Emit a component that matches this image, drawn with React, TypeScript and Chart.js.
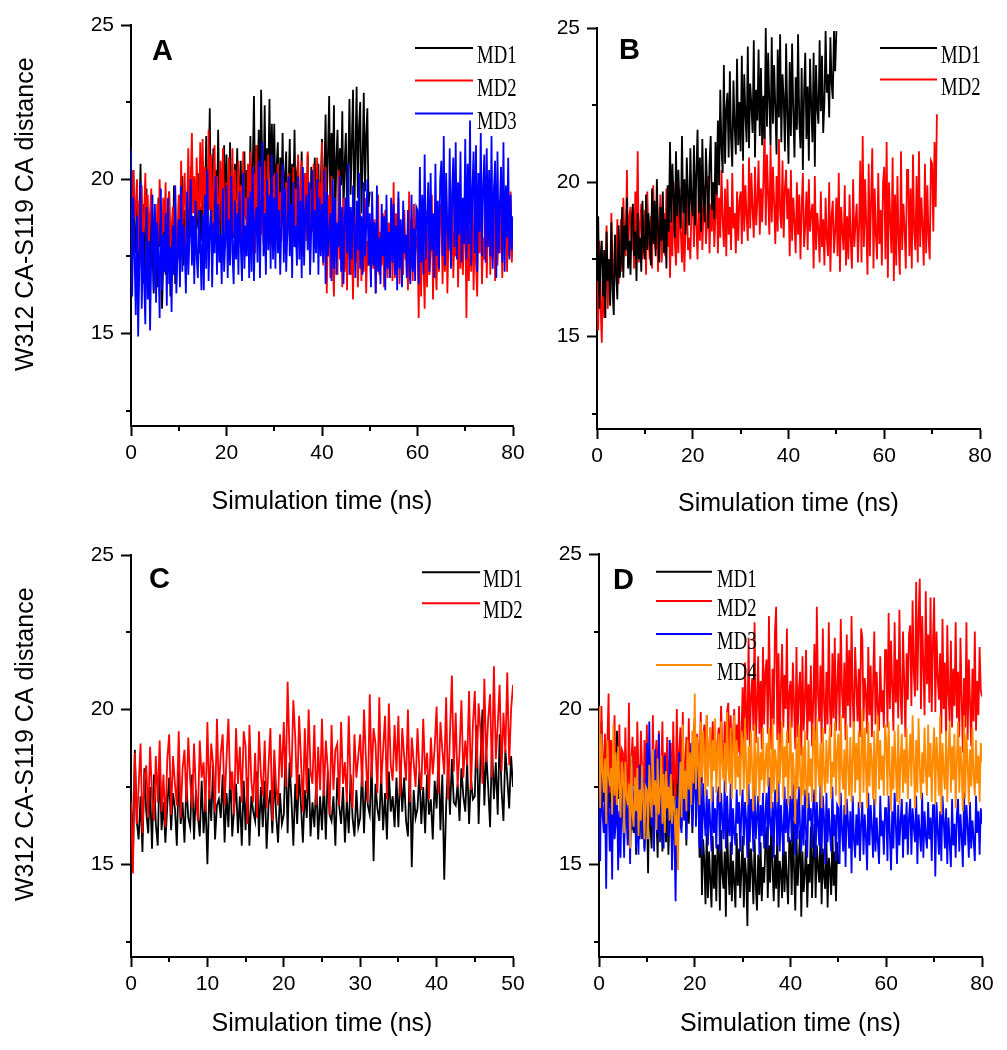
import React, { useEffect, useRef } from 'react';
import { Chart, registerables } from 'chart.js';

Chart.register(...registerables);

// ---------- data (distance in Å, one value every 0.25 ns) ----------
const TIME_STEP_NS = 0.25;
const Y_MIN = 12;
const Y_MAX = 25;
const Y_TICKS = [12.5, 15, 17.5, 20, 22.5, 25];
const X_TITLE = 'Simulation time (ns)';
const Y_TITLE = 'W312 CA-S119 CA distance';

const A_MD1 = [
  18.9, 17.4, 20.3, 18.1, 17.6, 19.6, 16.8, 18.8, 20.5, 17.3, 19.2, 16.6, 18.4, 19.7, 17.0, 18.9, 16.4, 19.3, 17.7, 16.3,
  18.6, 17.2, 16.5, 19.4, 17.8, 18.9, 15.8, 17.3, 19.0, 16.9, 18.2, 17.5, 19.6, 16.2, 18.5, 17.1, 19.8, 16.6, 18.0, 17.4,
  19.3, 17.6, 18.5, 20.1, 17.2, 19.0, 18.3, 17.4, 19.8, 18.1, 20.4, 17.9, 18.8, 17.3, 19.5, 18.4, 20.2, 17.6, 19.1, 18.0,
  20.6, 18.2, 19.4, 21.4, 18.6, 20.1, 22.3, 18.4, 19.7, 21.0, 17.9, 20.3, 18.7, 21.6, 19.2, 18.1, 20.2, 18.9, 21.1, 18.6,
  20.8, 18.3, 19.6, 21.2, 18.9, 20.0, 18.1, 20.5, 19.3, 21.0, 18.4, 19.8, 20.6, 18.2, 19.2, 20.9, 18.7, 20.3, 19.0, 18.5,
  21.4, 19.0, 20.3, 22.7, 19.4, 21.1, 19.8, 21.6, 18.8, 22.9, 20.2, 19.6, 22.4, 19.1, 21.0, 20.0, 22.6, 19.3, 21.8, 19.7,
  21.8, 19.0, 20.4, 21.2, 18.4, 20.7, 19.5, 21.5, 18.9, 20.1, 20.9, 18.2, 19.8, 21.3, 18.7, 20.5, 19.3, 21.6, 18.6, 20.2,
  20.6, 18.0, 19.4, 20.9, 17.6, 19.1, 20.2, 18.3, 20.8, 19.0, 17.8, 20.4, 18.5, 19.7, 20.7, 18.1, 19.3, 20.5, 18.4, 19.9,
  21.3, 18.6, 20.2, 22.1, 19.2, 20.8, 22.7, 19.0, 21.5, 20.0, 22.4, 18.4, 20.6, 21.6, 19.3, 21.0, 19.8, 22.2, 18.9, 20.5,
  21.5, 18.8, 20.4, 22.6, 19.5, 21.2, 22.9, 18.7, 20.9, 23.0, 19.4, 21.7, 22.5, 18.9, 20.6, 22.8, 19.6, 21.4, 22.3, 19.1,
  19.6,
];
const A_MD2 = [
  19.4, 18.2, 20.3, 18.7, 19.1, 20.0, 17.6, 19.3, 18.4, 19.8, 17.9, 18.8, 20.2, 18.1, 19.5, 17.7, 18.9, 19.7, 18.3, 17.8,
  18.9, 17.3, 19.2, 17.9, 20.0, 18.5, 17.5, 19.4, 18.3, 19.9, 17.2, 18.7, 19.6, 17.7, 18.4, 19.1, 17.6, 19.8, 18.0, 17.4,
  19.5, 18.1, 20.6, 18.4, 19.3, 20.2, 17.8, 19.0, 21.0, 18.6, 19.8, 21.5, 18.9, 20.1, 18.3, 20.7, 19.2, 18.5, 21.2, 19.0,
  21.3, 18.7, 20.4, 19.5, 18.1, 21.6, 19.0, 20.8, 18.3, 19.7, 21.1, 18.6, 20.1, 18.0, 19.4, 20.6, 18.4, 21.0, 19.2, 18.2,
  19.9, 17.8, 20.7, 18.5, 19.6, 21.0, 18.2, 20.3, 17.7, 19.2, 20.6, 18.4, 19.8, 18.0, 20.9, 18.8, 19.4, 17.9, 20.5, 18.6,
  20.9, 18.0, 19.6, 20.2, 17.6, 21.1, 18.6, 19.9, 20.4, 18.2, 19.8, 17.9, 20.6, 18.5, 19.3, 20.8, 18.1, 19.5, 17.8, 20.0,
  20.1, 18.3, 19.4, 20.5, 17.7, 19.6, 18.0, 20.3, 18.8, 17.6, 19.9, 18.1, 20.2, 18.6, 19.1, 17.8, 20.4, 18.4, 19.7, 18.0,
  20.8, 18.4, 19.5, 20.6, 17.5, 19.2, 20.2, 18.0, 20.9, 18.7, 17.3, 19.7, 18.3, 20.5, 17.8, 19.3, 20.7, 18.1, 19.9, 17.6,
  21.2, 17.2, 19.6, 20.4, 16.3, 18.7, 19.5, 16.8, 20.1, 17.5, 16.2, 19.0, 18.1, 16.9, 20.3, 17.4, 18.8, 16.5, 19.4, 17.0,
  18.6, 16.4, 19.3, 17.6, 16.9, 18.2, 16.1, 18.8, 17.3, 19.1, 16.5, 17.8, 18.9, 16.7, 18.3, 17.0, 19.4, 16.3, 18.0, 17.2,
  18.4, 16.6, 19.2, 17.1, 18.7, 16.3, 17.9, 19.5, 16.9, 18.3, 17.2, 18.9, 16.5, 19.0, 17.6, 16.8, 18.6, 17.3, 19.3, 16.7,
  19.9, 16.8, 18.9, 17.3, 19.4, 16.6, 18.5, 17.8, 16.9, 19.0, 17.4, 18.2, 16.4, 19.6, 17.1, 18.7, 16.7, 19.2, 17.5, 18.0,
  18.2, 15.5, 19.3, 16.2, 18.6, 17.4, 15.8, 19.0, 16.5, 18.4, 16.9, 17.7, 19.5, 16.1, 18.8, 17.2, 16.4, 18.9, 17.0, 19.1,
  19.2, 16.6, 18.5, 17.0, 19.7, 16.3, 18.1, 18.8, 17.2, 19.4, 16.8, 18.3, 17.5, 19.6, 16.5, 18.7, 17.1, 19.0, 16.9, 18.4,
  18.9, 15.5, 19.1, 16.7, 18.4, 17.0, 19.5, 16.4, 18.7, 17.3, 16.2, 18.9, 17.6, 19.2, 16.6, 18.1, 17.4, 19.4, 16.8, 18.5,
  19.3, 16.9, 18.6, 17.4, 19.8, 16.7, 19.0, 17.2, 18.5, 17.6, 19.5, 16.8, 18.3, 17.9, 19.1, 17.0, 18.8, 17.5, 19.6, 17.3,
  18.2,
];
const A_MD3 = [
  21.0, 16.2, 19.4, 17.5, 15.6, 18.8, 14.9, 17.2, 19.9, 15.8, 18.3, 16.7, 15.3, 19.1, 16.1, 18.0, 15.1, 17.7, 19.5, 16.4,
  19.2, 16.0, 18.6, 17.4, 15.5, 19.7, 16.4, 18.2, 17.0, 18.9, 15.9, 19.4, 16.6, 17.8, 15.7, 18.5, 16.9, 19.8, 16.3, 17.6,
  18.7, 16.5, 19.8, 17.0, 18.5, 17.7, 16.3, 19.6, 16.9, 18.1, 20.0, 17.2, 18.8, 16.6, 19.3, 17.5, 16.8, 19.0, 17.9, 16.4,
  18.9, 16.4, 19.5, 17.1, 20.3, 16.7, 18.4, 19.0, 16.5, 18.6, 17.6, 20.1, 16.9, 19.2, 17.3, 18.2, 16.6, 19.7, 17.0, 18.0,
  19.8, 16.8, 18.7, 17.2, 20.1, 17.6, 16.6, 19.3, 17.4, 18.9, 16.9, 19.6, 17.8, 16.7, 20.2, 17.1, 18.5, 17.5, 19.4, 16.8,
  19.6, 17.0, 20.4, 16.7, 18.6, 19.1, 17.3, 20.6, 16.8, 19.0, 21.2, 17.5, 18.9, 16.9, 20.0, 17.7, 19.5, 17.1, 20.8, 17.4,
  19.4, 17.1, 20.2, 17.6, 19.0, 16.9, 18.6, 20.5, 17.3, 19.7, 17.0, 18.3, 20.1, 17.5, 19.2, 16.8, 19.9, 17.8, 18.5, 17.2,
  20.1, 17.4, 19.3, 16.8, 20.4, 17.2, 18.8, 19.5, 17.7, 19.9, 16.9, 18.4, 20.3, 17.3, 19.0, 17.6, 20.0, 16.9, 19.4, 17.5,
  19.2, 17.3, 20.3, 16.6, 19.6, 17.5, 18.2, 18.9, 16.7, 20.0, 17.1, 19.4, 16.9, 18.6, 17.8, 20.1, 17.0, 19.1, 16.6, 18.7,
  19.4, 17.6, 20.5, 16.9, 19.1, 17.4, 19.8, 18.3, 16.8, 19.3, 17.7, 20.2, 17.1, 18.8, 16.9, 19.9, 17.5, 18.4, 20.0, 17.2,
  18.9, 16.5, 19.6, 17.2, 18.6, 16.3, 19.8, 17.0, 18.1, 16.6, 19.2, 17.5, 18.8, 16.4, 19.5, 17.1, 18.3, 16.8, 19.4, 17.3,
  19.2, 16.9, 18.5, 16.4, 19.6, 17.1, 18.7, 16.5, 19.3, 17.6, 18.2, 16.8, 19.0, 17.3, 16.6, 19.5, 17.0, 18.4, 16.7, 19.1,
  19.0, 16.6, 20.4, 17.3, 19.5, 16.9, 20.8, 17.4, 18.6, 19.9, 17.0, 20.2, 17.7, 18.9, 16.8, 20.5, 17.5, 19.3, 17.1, 20.0,
  20.6, 17.5, 21.4, 17.2, 20.2, 18.4, 17.7, 21.0, 17.1, 19.6, 20.7, 17.8, 21.2, 17.4, 19.9, 18.2, 20.9, 17.3, 19.4, 17.9,
  21.3, 17.4, 20.5, 17.9, 21.9, 17.2, 19.7, 20.9, 17.6, 21.1, 17.0, 20.2, 18.3, 21.5, 17.5, 19.8, 20.8, 17.3, 21.0, 17.8,
  20.3, 17.5, 21.4, 17.1, 19.6, 20.6, 16.8, 20.9, 17.6, 19.2, 20.4, 17.3, 21.2, 17.0, 19.8, 18.1, 20.7, 17.4, 19.5, 17.7,
  18.8,
];

const B_MD1 = [
  17.2, 18.9, 15.9, 17.6, 18.1, 16.3, 17.8, 15.6, 18.4, 16.8, 17.5, 16.0, 18.7, 16.5, 15.7, 18.3, 17.0, 16.2, 18.6, 16.9,
  17.4, 19.2, 16.9, 18.6, 17.8, 19.5, 17.2, 18.1, 17.0, 18.8, 19.3, 17.6, 18.4, 16.8, 19.0, 17.5, 18.2, 17.1, 19.4, 17.9,
  17.5, 19.6, 17.8, 19.0, 18.3, 17.3, 19.8, 18.0, 19.4, 17.6, 20.1, 18.5, 17.4, 19.2, 18.1, 19.7, 17.7, 18.8, 17.2, 19.9,
  18.4, 21.3, 18.7, 20.6, 19.5, 18.2, 21.0, 18.9, 20.4, 19.2, 18.5, 21.5, 19.0, 20.1, 18.3, 20.8, 19.6, 18.6, 21.1, 19.3,
  18.9, 21.2, 18.6, 20.3, 21.7, 19.0, 20.8, 18.4, 21.4, 19.5, 18.7, 21.1, 19.8, 18.5, 20.6, 21.5, 19.1, 20.0, 18.8, 21.3,
  19.6, 22.0, 19.9, 23.0, 21.1, 20.3, 23.8, 20.6, 22.4, 22.9, 20.8, 23.6, 21.4, 20.5, 23.3, 21.8, 20.9, 24.0, 21.2, 22.6,
  21.0, 24.1, 20.7, 23.5, 22.2, 21.3, 24.4, 21.1, 23.2, 22.5, 21.6, 24.6, 20.8, 23.0, 22.0, 24.3, 21.5, 23.7, 21.2, 22.8,
  21.4, 25.0, 21.8, 24.2, 22.6, 21.2, 24.7, 21.9, 23.8, 22.4, 20.9, 24.3, 22.1, 24.8, 21.3, 23.5, 22.7, 21.0, 24.5, 22.2,
  20.6, 23.9, 21.5, 24.5, 22.3, 20.8, 23.4, 21.7, 24.8, 22.0, 21.1, 23.7, 20.4, 22.9, 24.2, 21.4, 23.1, 20.7, 24.0, 22.5,
  21.3, 24.2, 20.5, 23.8, 22.4, 21.9, 24.6, 22.3, 24.1, 21.6, 22.6, 24.9, 22.9, 23.5, 22.1, 24.7, 23.2, 22.7, 24.9, 23.6,
  24.9,
];
const B_MD2 = [
  16.8, 15.2, 18.1, 16.0, 14.8, 17.4, 15.6, 16.9, 18.6, 15.9, 17.5, 16.9, 19.0, 17.2, 16.4, 18.3, 17.0, 18.8, 16.7, 18.0,
  18.8, 17.1, 19.5, 18.2, 17.6, 20.4, 17.3, 18.9, 19.2, 17.8, 18.5, 17.2, 19.7, 18.0, 21.0, 17.4, 18.6, 19.3, 17.5, 18.4,
  19.1, 17.0, 19.7, 18.3, 17.5, 18.9, 17.2, 19.9, 18.1, 17.8, 19.3, 17.1, 18.6, 19.6, 17.4, 18.2, 19.0, 17.6, 19.8, 17.9,
  19.5, 16.9, 18.8, 17.6, 20.0, 18.1, 17.3, 19.2, 17.7, 19.8, 18.4, 17.4, 19.0, 17.1, 18.6, 19.6, 17.8, 18.2, 17.5, 19.3,
  19.6, 17.9, 20.3, 18.6, 17.5, 19.4, 18.1, 20.5, 17.8, 19.1, 19.9, 18.0, 18.7, 20.2, 17.7, 19.3, 18.4, 20.0, 17.9, 18.9,
  20.2, 17.7, 19.5, 18.2, 20.4, 18.8, 17.9, 19.8, 17.6, 20.1, 18.3, 19.2, 17.8, 20.3, 18.5, 19.0, 17.7, 19.7, 18.1, 19.4,
  19.7, 18.0, 20.6, 18.4, 19.9, 18.9, 18.1, 20.8, 18.5, 20.3, 19.1, 18.2, 20.5, 18.6, 19.4, 20.7, 18.3, 19.8, 18.7, 20.0,
  21.8, 18.6, 20.9, 19.6, 18.3, 21.2, 18.7, 20.5, 19.3, 18.0, 20.2, 18.4, 21.4, 19.0, 18.5, 20.7, 18.2, 19.8, 20.4, 18.8,
  19.8, 17.6, 20.4, 18.1, 19.5, 18.7, 17.7, 20.0, 18.3, 19.6, 17.5, 19.2, 20.3, 17.9, 18.6, 19.7, 17.8, 20.1, 18.4, 19.0,
  19.3, 17.2, 20.2, 17.8, 19.0, 18.5, 17.4, 19.7, 17.9, 18.8, 17.3, 19.5, 18.2, 17.6, 20.0, 17.1, 18.9, 19.4, 17.7, 18.4,
  19.5, 17.6, 20.3, 17.1, 19.2, 18.4, 17.8, 19.9, 17.3, 18.9, 17.5, 19.6, 18.1, 17.2, 20.1, 17.9, 18.7, 19.3, 17.4, 18.6,
  20.7, 17.4, 21.5, 17.9, 20.1, 18.6, 17.0, 20.6, 17.6, 19.4, 21.1, 17.2, 19.8, 18.3, 17.5, 20.3, 18.0, 19.1, 17.3, 20.0,
  20.5, 17.5, 21.3, 16.9, 20.0, 18.8, 17.7, 20.8, 16.8, 19.6, 17.3, 20.2, 18.1, 17.0, 21.0, 17.8, 19.3, 18.5, 17.2, 20.4,
  20.4, 17.6, 19.8, 17.2, 20.9, 18.4, 17.8, 20.2, 17.4, 21.0, 17.9, 19.5, 18.6, 17.3, 20.6, 17.7, 19.9, 18.2, 17.5, 20.7,
  20.6, 18.4, 21.3, 19.2, 22.2,
];

const C_MD1 = [
  17.6, 15.0, 18.7, 16.4, 15.8, 17.2, 15.4, 18.1, 16.7, 16.0, 17.5, 15.5, 17.9, 16.3, 15.6, 18.3, 16.1, 17.0, 15.7, 16.9,
  17.8, 16.1, 17.3, 16.8, 15.6, 18.0, 16.3, 17.0, 15.7, 17.6, 16.5, 16.2, 17.9, 15.8, 17.4, 16.6, 15.9, 17.7, 16.0, 17.1,
  15.0, 17.4, 16.4, 18.2, 15.8, 16.9, 17.1, 16.5, 17.9, 15.7, 17.3, 16.2, 18.0, 15.9, 16.8, 17.6, 16.0, 17.2, 15.6, 17.7,
  16.1, 17.8, 15.6, 17.2, 16.7, 16.4, 18.0, 15.9, 17.5, 16.2, 17.7, 15.5, 16.9, 17.4, 16.0, 17.9, 16.6, 15.7, 17.3, 16.3,
  16.6, 18.8, 16.0, 18.3, 17.1, 15.6, 17.6, 16.3, 17.9, 16.9, 15.7, 17.4, 16.5, 18.1, 15.9, 17.0, 16.2, 17.7, 15.8, 17.2,
  16.1, 17.7, 15.8, 18.0, 16.6, 16.4, 17.2, 15.6, 17.8, 16.9, 16.3, 17.5, 15.7, 17.1, 16.0, 17.9, 16.5, 15.9, 17.4, 16.2,
  16.5, 18.1, 16.0, 17.7, 16.9, 16.6, 18.3, 15.1, 17.6, 16.8, 16.4, 17.9, 16.1, 17.3, 15.8, 18.0, 16.7, 17.2, 16.2, 17.8,
  16.2, 18.2, 16.7, 17.8, 16.4, 15.9, 18.3, 14.9, 17.4, 16.5, 16.8, 18.0, 16.3, 17.5, 16.0, 17.9, 16.6, 17.1, 15.8, 17.7,
  16.8, 18.5, 16.1, 17.9, 14.5, 16.9, 18.2, 16.6, 18.4, 17.0, 16.9, 17.6, 16.4, 18.1, 17.2, 16.7, 18.3, 16.3, 17.8, 17.1,
  17.2, 19.5, 16.3, 18.4, 20.0, 16.9, 18.6, 17.5, 16.2, 18.9, 17.1, 18.3, 16.6, 19.2, 17.4, 16.4, 18.7, 17.8, 16.8, 18.5,
  17.5,
];
const C_MD2 = [
  17.0, 14.7, 18.6, 16.3, 17.5, 18.9, 16.0, 17.8, 18.2, 16.5, 18.8, 17.2, 16.4, 18.5, 17.0, 19.0, 16.7, 17.9, 16.2, 18.4,
  19.2, 16.6, 18.5, 17.6, 16.9, 19.3, 16.5, 18.1, 18.7, 17.0, 19.1, 17.7, 16.8, 18.9, 17.3, 16.4, 19.0, 17.8, 18.3, 16.7,
  19.6, 17.1, 18.9, 18.2, 16.7, 19.7, 17.3, 18.6, 19.2, 16.9, 18.4, 19.7, 17.4, 18.0, 16.6, 19.4, 17.6, 18.8, 17.0, 19.3,
  18.8, 16.3, 19.5, 17.7, 17.0, 18.6, 16.5, 19.3, 17.9, 17.2, 19.0, 16.8, 18.2, 19.4, 16.4, 18.7, 17.5, 16.9, 19.2, 17.8,
  19.6, 17.5, 20.9, 18.6, 17.8, 20.3, 19.1, 17.1, 19.8, 18.4, 16.7, 19.4, 17.3, 20.0, 18.0, 17.6, 19.5, 16.9, 18.8, 17.4,
  19.7, 17.2, 19.0, 18.1, 16.6, 19.5, 17.4, 18.7, 18.9, 16.9, 19.6, 17.6, 18.3, 17.0, 19.8, 17.5, 16.8, 19.2, 17.8, 18.5,
  19.2, 17.5, 20.0, 18.4, 17.0, 20.5, 17.8, 19.4, 18.9, 17.3, 20.4, 17.6, 18.7, 19.8, 17.1, 20.2, 18.2, 17.7, 19.5, 18.0,
  19.8, 17.2, 19.4, 18.5, 17.7, 20.0, 17.0, 19.1, 18.3, 17.5, 19.4, 18.0, 17.4, 19.7, 17.9, 18.6, 17.1, 19.1, 17.9, 18.8,
  20.1, 17.3, 19.6, 18.7, 17.9, 20.4, 17.1, 19.2, 21.1, 18.0, 19.9, 17.5, 18.6, 20.3, 17.8, 19.0, 18.2, 20.6, 17.4, 19.5,
  20.6, 18.1, 20.2, 19.3, 17.6, 21.0, 18.3, 19.7, 20.5, 17.8, 21.4, 18.4, 19.5, 20.8, 18.0, 19.9, 18.6, 21.2, 18.2, 20.0,
  20.8,
];

const D_MD1 = [
  18.2, 16.4, 19.6, 17.5, 17.0, 18.5, 16.1, 19.0, 17.8, 16.8, 18.0, 16.2, 18.9, 17.3, 16.5, 19.3, 17.1, 18.4, 16.6, 17.7,
  17.4, 15.6, 17.9, 16.8, 16.3, 17.0, 15.4, 17.6, 16.5, 16.0, 17.2, 15.3, 17.8, 16.2, 15.8, 17.5, 16.6, 17.1, 15.5, 16.9,
  16.9, 14.7, 17.5, 16.2, 15.5, 18.0, 15.9, 17.3, 16.6, 15.2, 17.7, 16.1, 16.8, 15.4, 17.9, 16.4, 15.7, 17.4, 15.3, 16.7,
  17.1, 15.4, 17.8, 16.5, 15.0, 18.4, 15.8, 17.5, 16.9, 16.2, 19.0, 16.6, 17.7, 15.6, 18.2, 16.3, 17.2, 18.6, 16.0, 17.4,
  19.3, 16.8, 18.2, 17.4, 15.2, 16.9, 14.0, 15.8, 15.1, 13.7, 16.0, 13.9, 15.4, 14.5, 13.6, 15.9, 14.2, 15.3, 13.8, 15.6,
  15.6, 13.5, 16.1, 14.7, 14.2, 15.4, 13.3, 16.3, 14.9, 14.0, 15.7, 13.8, 15.1, 14.4, 13.6, 16.0, 14.3, 15.5, 13.9, 14.8,
  15.9, 13.6, 15.2, 14.6, 13.0, 16.0, 14.1, 15.5, 14.8, 13.7, 15.8, 14.3, 13.5, 15.3, 14.0, 15.7, 13.8, 14.9, 14.4, 15.6,
  16.2, 13.9, 15.6, 14.4, 16.5, 14.9, 13.8, 15.3, 14.2, 16.0, 13.6, 15.1, 14.7, 13.9, 16.3, 14.1, 15.4, 14.5, 13.7, 15.8,
  15.7, 14.0, 16.4, 14.8, 13.5, 15.9, 14.3, 15.2, 16.1, 13.3, 15.4, 14.1, 14.7, 15.8, 13.6, 15.0, 14.4, 16.2, 13.9, 15.3,
  16.3, 13.9, 15.6, 14.9, 14.4, 16.0, 13.7, 15.5, 14.6, 14.2, 15.8, 13.6, 15.2, 14.8, 14.0, 16.1, 14.3, 15.4, 13.8, 15.7,
  15.0,
];
const D_MD2 = [
  19.6, 17.0, 20.1, 18.4, 17.8, 19.2, 16.6, 18.9, 20.5, 17.3, 19.0, 17.6, 18.5, 19.8, 16.9, 18.2, 17.4, 19.5, 17.1, 18.7,
  18.6, 16.8, 19.4, 17.7, 17.2, 20.2, 16.9, 18.3, 19.1, 17.5, 18.8, 16.7, 19.6, 17.9, 17.0, 19.3, 18.1, 16.6, 19.0, 17.4,
  19.5, 17.0, 18.7, 17.8, 16.6, 19.8, 17.4, 18.4, 19.0, 16.9, 19.3, 17.2, 18.1, 19.6, 16.8, 18.6, 17.5, 19.1, 17.1, 18.3,
  18.9, 16.5, 19.6, 17.8, 17.1, 20.0, 17.6, 18.5, 19.4, 16.8, 19.9, 17.3, 18.2, 19.1, 16.9, 19.7, 17.5, 18.7, 17.0, 19.2,
  19.7, 17.8, 19.2, 18.6, 18.1, 19.9, 17.6, 19.0, 19.5, 18.0, 19.8, 17.9, 18.7, 19.4, 17.7, 19.6, 18.3, 19.1, 17.8, 18.9,
  19.4, 18.2, 20.1, 18.8, 17.8, 19.6, 18.4, 19.9, 20.2, 18.0, 19.8, 18.5, 19.2, 20.0, 18.1, 19.5, 18.6, 20.1, 18.3, 19.0,
  20.7, 18.6, 21.5, 19.8, 19.0, 22.3, 18.8, 20.4, 21.0, 19.3, 22.8, 18.9, 20.1, 21.7, 19.2, 20.9, 18.7, 22.0, 19.5, 21.2,
  21.6, 19.2, 23.0, 20.3, 18.7, 21.3, 19.5, 22.5, 23.3, 19.0, 21.8, 18.6, 20.7, 22.1, 19.4, 21.1, 20.0, 22.6, 18.9, 20.5,
  20.9, 19.4, 21.5, 20.1, 18.7, 22.0, 19.1, 20.6, 21.2, 18.5, 21.7, 19.3, 20.3, 21.9, 19.0, 20.8, 19.6, 21.4, 18.8, 20.2,
  22.1, 19.0, 23.3, 20.5, 19.6, 21.4, 18.9, 22.6, 20.2, 19.2, 21.2, 19.5, 22.8, 20.0, 19.1, 21.8, 19.7, 22.3, 19.3, 20.7,
  21.8, 19.3, 22.9, 20.6, 19.7, 21.5, 19.0, 22.4, 20.1, 21.9, 19.4, 23.0, 20.3, 19.2, 22.0, 20.8, 19.6, 21.3, 19.1, 22.6,
  22.3, 19.6, 21.0, 20.5, 19.2, 22.0, 19.8, 21.4, 19.1, 20.8, 22.5, 19.5, 21.2, 20.0, 19.3, 21.7, 19.9, 20.6, 19.4, 21.9,
  21.9, 19.4, 23.1, 20.0, 22.2, 20.7, 19.3, 22.8, 20.2, 21.6, 19.7, 23.2, 20.4, 19.5, 22.5, 20.9, 19.1, 21.8, 20.3, 22.4,
  22.7, 20.1, 23.5, 21.2, 20.4, 24.1, 20.6, 22.9, 24.2, 20.0, 23.0, 21.4, 19.8, 23.8, 20.8, 22.4, 20.2, 23.6, 19.9, 22.1,
  23.6, 19.9, 22.5, 21.0, 20.3, 21.8, 19.2, 22.9, 20.0, 21.5, 18.9, 22.7, 20.5, 19.6, 22.2, 19.4, 21.3, 20.1, 22.8, 19.7,
  21.2, 19.1, 22.3, 20.4, 18.6, 21.0, 19.4, 22.8, 19.0, 21.6, 20.2, 18.8, 21.3, 19.6, 22.5, 19.3, 20.9, 19.8, 22.0, 20.6,
  20.4,
];
const D_MD3 = [
  17.8, 15.1, 19.2, 16.6, 16.0, 17.3, 14.2, 18.0, 16.9, 15.4, 17.0, 14.5, 18.4, 15.8, 16.3, 17.6, 14.8, 16.7, 15.2, 17.4,
  16.8, 15.2, 18.1, 16.5, 15.6, 17.4, 15.0, 18.5, 16.1, 17.2, 17.6, 15.5, 16.9, 15.3, 18.2, 16.4, 15.8, 17.8, 15.4, 16.6,
  18.9, 15.8, 19.6, 17.0, 16.2, 18.3, 15.4, 18.7, 17.3, 16.0, 19.2, 15.7, 17.8, 16.5, 15.5, 18.5, 16.8, 17.5, 15.9, 19.0,
  17.5, 14.8, 16.9, 15.9, 13.8, 17.2, 15.6, 18.6, 16.3, 16.0, 19.2, 16.4, 17.7, 15.8, 18.3, 16.7, 17.1, 18.9, 16.2, 17.4,
  19.3, 16.2, 18.4, 17.1, 15.5, 17.8, 15.3, 17.6, 16.6, 15.9, 17.4, 15.6, 17.1, 16.3, 15.4, 17.5, 16.0, 16.8, 15.5, 17.2,
  17.5, 15.4, 17.3, 16.5, 15.8, 17.7, 15.5, 17.2, 16.2, 15.9, 17.6, 15.3, 16.8, 16.0, 15.6, 17.4, 16.3, 17.0, 15.4, 16.7,
  17.4, 15.6, 17.0, 16.4, 15.2, 17.6, 15.7, 17.1, 16.6, 15.4, 17.5, 15.8, 16.5, 17.2, 15.3, 16.9, 15.9, 17.3, 15.5, 16.6,
  17.3, 15.5, 17.8, 16.3, 15.9, 17.0, 15.2, 17.4, 16.7, 15.6, 17.7, 15.4, 16.9, 16.1, 15.3, 17.5, 16.0, 17.1, 15.7, 16.5,
  17.2, 15.7, 17.6, 16.6, 15.3, 17.1, 15.8, 17.5, 16.2, 15.4, 16.9, 15.6, 17.4, 16.0, 15.2, 17.3, 16.4, 16.8, 15.5, 17.0,
  17.4, 15.2, 17.0, 16.3, 15.6, 17.6, 15.3, 17.2, 16.5, 15.0, 17.3, 15.7, 16.8, 16.0, 15.4, 17.5, 15.9, 16.6, 15.1, 16.9,
  16.8, 15.0, 17.3, 16.1, 15.4, 16.9, 14.9, 17.1, 16.4, 15.5, 16.7, 14.7, 17.2, 15.8, 15.2, 16.6, 15.6, 17.0, 15.1, 16.3,
  17.0, 15.3, 16.6, 15.9, 14.8, 17.3, 15.6, 16.9, 16.2, 15.2, 17.1, 15.4, 16.5, 15.7, 15.0, 17.2, 15.9, 16.4, 15.3, 16.8,
  16.8, 15.1, 17.2, 16.0, 14.8, 16.7, 15.5, 17.3, 16.3, 15.0, 16.9, 15.6, 16.4, 17.1, 15.2, 16.6, 15.8, 17.0, 15.3, 16.5,
  17.1, 15.3, 16.8, 16.2, 15.7, 17.2, 15.0, 16.6, 16.0, 15.4, 17.3, 15.2, 16.7, 15.9, 15.5, 17.0, 15.8, 16.5, 15.1, 16.9,
  16.9, 14.6, 17.0, 16.1, 15.3, 16.7, 15.1, 17.2, 16.4, 15.5, 16.8, 15.0, 16.5, 15.7, 14.9, 17.1, 15.6, 16.3, 15.2, 16.6,
  17.1, 15.4, 16.6, 15.9, 14.9, 17.3, 15.6, 16.9, 16.2, 15.2, 17.0, 15.5, 16.4, 15.8, 15.1, 17.2, 16.0, 16.7, 15.3, 16.8,
  16.3,
];
const D_MD4 = [
  20.1, 16.8, 19.2, 18.0, 17.3, 18.4, 16.3, 19.0, 17.9, 17.5, 18.1, 16.6, 19.5, 17.2, 18.6, 16.9, 18.8, 17.6, 16.5, 18.3,
  17.9, 16.0, 18.3, 17.2, 16.9, 17.6, 15.5, 18.5, 16.6, 16.2, 17.8, 16.7, 18.1, 15.9, 17.4, 16.4, 18.2, 17.0, 15.8, 17.5,
  17.4, 15.8, 18.2, 17.1, 16.5, 18.7, 16.9, 17.7, 16.1, 18.4, 16.6, 17.3, 18.5, 16.3, 17.9, 16.0, 18.0, 16.8, 17.5, 16.4,
  17.9, 16.3, 17.2, 16.8, 15.6, 16.8, 14.8, 17.0, 18.3, 16.5, 19.5, 17.1, 18.0, 16.7, 19.0, 17.4, 18.6, 16.9, 19.3, 17.6,
  20.5, 17.4, 19.1, 18.2, 16.9, 19.6, 17.8, 19.3, 18.5, 17.2, 19.8, 17.5, 18.8, 19.4, 17.0, 19.0, 18.0, 19.7, 17.3, 18.6,
  19.2, 17.0, 19.6, 18.3, 17.7, 18.9, 17.3, 19.9, 18.1, 17.6, 19.4, 17.1, 18.7, 19.8, 17.4, 19.0, 17.8, 18.5, 17.2, 19.3,
  19.0, 17.4, 19.7, 18.1, 16.9, 18.8, 17.6, 19.3, 18.0, 16.7, 19.5, 17.2, 18.4, 19.1, 17.0, 18.6, 17.7, 19.4, 17.3, 18.2,
  18.9, 17.5, 19.4, 18.2, 16.8, 19.7, 17.3, 18.7, 18.3, 17.0, 19.2, 17.6, 18.5, 19.6, 17.1, 18.8, 17.8, 19.3, 16.9, 18.4,
  19.6, 17.1, 18.6, 17.8, 16.3, 19.1, 17.4, 19.5, 18.0, 16.9, 18.8, 17.2, 19.3, 17.6, 16.8, 19.0, 17.5, 18.4, 17.0, 19.4,
  19.3, 17.0, 19.7, 18.2, 17.5, 18.9, 16.8, 19.4, 17.9, 17.3, 19.0, 17.6, 18.6, 19.5, 17.1, 18.3, 17.8, 19.6, 17.2, 18.7,
  19.2, 16.9, 19.8, 18.0, 17.4, 18.7, 16.6, 19.5, 18.2, 17.2, 19.1, 17.0, 18.5, 19.6, 17.3, 18.9, 17.7, 19.3, 16.8, 18.4,
  20.0, 17.3, 19.4, 18.1, 16.8, 19.6, 17.5, 18.9, 18.3, 17.1, 19.3, 16.9, 18.7, 19.8, 17.4, 19.0, 17.7, 18.5, 17.2, 19.5,
  19.0, 17.2, 19.6, 18.0, 16.7, 18.8, 17.4, 19.3, 18.1, 17.0, 19.5, 16.9, 18.4, 19.2, 17.3, 18.7, 17.6, 19.4, 17.1, 18.3,
  19.2, 17.5, 19.8, 18.3, 16.8, 19.0, 17.3, 19.7, 18.1, 17.1, 18.6, 17.6, 19.4, 18.0, 17.2, 19.5, 17.8, 18.9, 17.0, 18.5,
  19.4, 16.9, 19.1, 18.2, 17.2, 19.8, 16.6, 18.9, 18.0, 17.4, 19.3, 17.0, 18.6, 19.6, 17.3, 18.8, 17.7, 19.2, 16.8, 18.4,
  19.6, 17.3, 18.8, 18.1, 16.7, 19.8, 17.1, 19.2, 18.3, 16.9, 18.7, 17.5, 19.4, 17.8, 17.2, 19.0, 17.6, 18.5, 17.0, 18.9,
  18.3,
];

// ---------- styling ----------
const BLACK = '#000000';
const RED = '#ff0000';
const BLUE = '#0000ff';
const ORANGE = '#ff8a00';
const SANS = 'Arial, "Liberation Sans", Helvetica, sans-serif';
const SERIF = '"Times New Roman", "Liberation Serif", Times, serif';

type Series = { label: string; color: string; values: number[]; order: number };
type Panel = {
  letter: string;
  box: { left: number; top: number; width: number; height: number };
  area: { left: number; top: number; right: number; bottom: number };
  xMax: number;
  xStep: number;
  xMajor: number;
  titlePad: number;
  yTitle: boolean;
  letterPos: { x: number; y: number };
  legend: { x0: number; x1: number; tx: number; ys: number[] };
  series: Series[];
};

const PANELS: Panel[] = [
  {
    letter: 'A',
    box: { left: 0, top: 0, width: 540, height: 530 },
    area: { left: 131, top: 25, right: 513, bottom: 426 },
    xMax: 80, xStep: 10, xMajor: 20, titlePad: 13, yTitle: true,
    letterPos: { x: 152, y: 60 },
    legend: { x0: 415, x1: 473, tx: 477, ys: [48, 80.5, 113.5] },
    series: [
      { label: 'MD1', color: BLACK, values: A_MD1, order: 3 },
      { label: 'MD2', color: RED, values: A_MD2, order: 2 },
      { label: 'MD3', color: BLUE, values: A_MD3, order: 1 },
    ],
  },
  {
    letter: 'B',
    box: { left: 540, top: 0, width: 467, height: 530 },
    area: { left: 57, top: 28, right: 440, bottom: 429 },
    xMax: 80, xStep: 10, xMajor: 20, titlePad: 11, yTitle: false,
    letterPos: { x: 79, y: 58.5 },
    legend: { x0: 340, x1: 397, tx: 401, ys: [48, 79.5] },
    series: [
      { label: 'MD1', color: BLACK, values: B_MD1, order: 1 },
      { label: 'MD2', color: RED, values: B_MD2, order: 2 },
    ],
  },
  {
    letter: 'C',
    box: { left: 0, top: 530, width: 540, height: 520 },
    area: { left: 131, top: 25, right: 513, bottom: 427 },
    xMax: 50, xStep: 5, xMajor: 10, titlePad: 11, yTitle: true,
    letterPos: { x: 149, y: 58 },
    legend: { x0: 422, x1: 480, tx: 483, ys: [42.3, 73.3] },
    series: [
      { label: 'MD1', color: BLACK, values: C_MD1, order: 2 },
      { label: 'MD2', color: RED, values: C_MD2, order: 1 },
    ],
  },
  {
    letter: 'D',
    box: { left: 540, top: 530, width: 467, height: 520 },
    area: { left: 59, top: 24, right: 442, bottom: 427 },
    xMax: 80, xStep: 10, xMajor: 20, titlePad: 11, yTitle: false,
    letterPos: { x: 73, y: 59 },
    legend: { x0: 116, x1: 172, tx: 177, ys: [41.7, 71, 104, 135] },
    series: [
      { label: 'MD1', color: BLACK, values: D_MD1, order: 4 },
      { label: 'MD2', color: RED, values: D_MD2, order: 3 },
      { label: 'MD3', color: BLUE, values: D_MD3, order: 2 },
      { label: 'MD4', color: ORANGE, values: D_MD4, order: 1 },
    ],
  },
];

function makeDecor(p: Panel) {
  return {
    id: 'panelDecor' + p.letter,
    afterDraw(chart: any) {
      const ctx = chart.ctx as CanvasRenderingContext2D;
      const xs = chart.scales.x;
      const ys = chart.scales.y;
      ctx.save();
      // minor ticks
      ctx.strokeStyle = '#000';
      ctx.lineWidth = 2;
      for (const t of xs.ticks) {
        if (t.value % p.xMajor !== 0) {
          const px = Math.round(xs.getPixelForValue(t.value));
          ctx.beginPath();
          ctx.moveTo(px, xs.top);
          ctx.lineTo(px, xs.top + 5);
          ctx.stroke();
        }
      }
      for (const t of ys.ticks) {
        if (t.value % 5 !== 0) {
          const py = Math.round(ys.getPixelForValue(t.value));
          ctx.beginPath();
          ctx.moveTo(ys.right, py);
          ctx.lineTo(ys.right - 5, py);
          ctx.stroke();
        }
      }
      // panel letter
      ctx.fillStyle = '#000';
      ctx.font = `bold 29px ${SANS}`;
      ctx.textAlign = 'left';
      ctx.textBaseline = 'alphabetic';
      ctx.fillText(p.letter, p.letterPos.x, p.letterPos.y);
      // legend
      p.series.forEach((s, i) => {
        const y = p.legend.ys[i];
        ctx.strokeStyle = s.color;
        ctx.lineWidth = 2;
        ctx.beginPath();
        ctx.moveTo(p.legend.x0, y);
        ctx.lineTo(p.legend.x1, y);
        ctx.stroke();
        ctx.save();
        ctx.translate(p.legend.tx, y + 15);
        ctx.scale(0.72, 1);
        ctx.fillStyle = '#000';
        ctx.font = `26px ${SERIF}`;
        ctx.fillText(s.label, 0, 0);
        ctx.restore();
      });
      // y axis title
      if (p.yTitle) {
        ctx.save();
        ctx.translate(33, 371);
        ctx.rotate(-Math.PI / 2);
        ctx.fillStyle = '#000';
        ctx.font = `25px ${SANS}`;
        ctx.textAlign = 'left';
        ctx.textBaseline = 'alphabetic';
        ctx.fillText(Y_TITLE, 0, 0);
        ctx.restore();
      }
      ctx.restore();
    },
  };
}

function makeConfig(p: Panel): any {
  const datasets = p.series.map((s) => ({
    label: s.label,
    data: s.values.map((v, i) => ({ x: i * TIME_STEP_NS, y: v })),
    borderColor: s.color,
    backgroundColor: s.color,
    borderWidth: 1.8,
    pointRadius: 0,
    pointHoverRadius: 0,
    tension: 0,
    fill: false,
    order: s.order,
  }));
  const xHeight = p.box.height - p.area.bottom;
  return {
    type: 'line',
    data: { datasets },
    options: {
      responsive: false,
      animation: false,
      devicePixelRatio: 1,
      events: [],
      layout: {
        padding: { left: 0, top: p.area.top, right: p.box.width - p.area.right, bottom: 0 },
      },
      plugins: {
        legend: { display: false },
        tooltip: { enabled: false },
        title: { display: false },
      },
      scales: {
        x: {
          type: 'linear',
          position: 'bottom',
          min: 0,
          max: p.xMax,
          afterFit: (s: any) => { s.height = xHeight; },
          ticks: {
            stepSize: p.xStep,
            autoSkip: false,
            maxRotation: 0,
            color: '#000',
            padding: 5,
            font: { size: 21, family: SANS },
            callback: (v: any) => (Number(v) % p.xMajor === 0 ? String(v) : ''),
          },
          grid: {
            display: true,
            drawOnChartArea: false,
            drawTicks: true,
            tickLength: 10,
            tickWidth: 2,
            tickColor: (c: any) => (c.tick && c.tick.value % p.xMajor === 0 ? '#000' : 'rgba(0,0,0,0)'),
          },
          border: { display: true, color: '#000', width: 2 },
          title: {
            display: true,
            text: X_TITLE,
            color: '#000',
            font: { size: 25, family: SANS },
            padding: { top: 0, bottom: p.titlePad },
          },
        },
        y: {
          type: 'linear',
          position: 'left',
          min: Y_MIN,
          max: Y_MAX,
          afterFit: (s: any) => { s.width = p.area.left; },
          afterBuildTicks: (s: any) => { s.ticks = Y_TICKS.map((v) => ({ value: v })); },
          ticks: {
            color: '#000',
            padding: 7,
            font: { size: 21, family: SANS },
            callback: (v: any) => (Number(v) % 5 === 0 ? String(v) : ''),
          },
          grid: {
            display: true,
            drawOnChartArea: false,
            drawTicks: true,
            tickLength: 10,
            tickWidth: 2,
            tickColor: (c: any) => (c.tick && c.tick.value % 5 === 0 ? '#000' : 'rgba(0,0,0,0)'),
          },
          border: { display: true, color: '#000', width: 2 },
        },
      },
    },
    plugins: [makeDecor(p)],
  };
}

function PanelChart({ p }: { p: Panel }) {
  const ref = useRef<HTMLCanvasElement>(null);
  useEffect(() => {
    if (!ref.current) return;
    const chart = new Chart(ref.current, makeConfig(p));
    return () => chart.destroy();
  }, [p]);
  return (
    <canvas
      ref={ref}
      width={p.box.width}
      height={p.box.height}
      style={{
        position: 'absolute',
        left: p.box.left,
        top: p.box.top,
        width: p.box.width,
        height: p.box.height,
      }}
    />
  );
}

export default function App() {
  return (
    <div style={{ position: 'absolute', left: 0, top: 0, width: 1007, height: 1050, background: '#fff' }}>
      {PANELS.map((p) => (
        <PanelChart key={p.letter} p={p} />
      ))}
    </div>
  );
}
